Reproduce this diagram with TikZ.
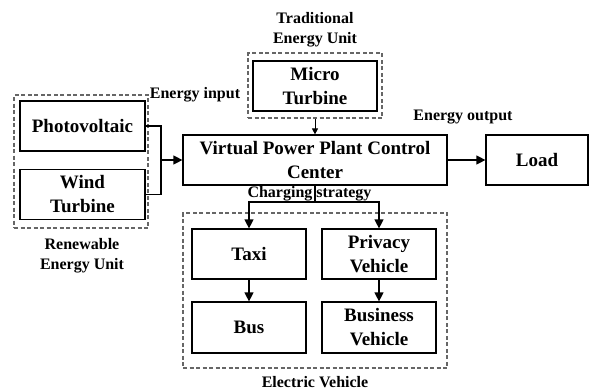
\documentclass[tikz,border=0pt]{standalone}
\usepackage{fontspec}
\setmainfont{Liberation Serif}
\usetikzlibrary{arrows.meta}

\begin{document}
\begin{tikzpicture}[x=1pt,y=-1pt,
  box/.style={draw, line width=1.2pt, inner sep=0pt, align=center,
    font=\fontsize{19}{24}\selectfont\bfseries},
  group/.style={draw=black!60, line width=1.1pt, dash pattern=on 4pt off 2.5pt, inner sep=0pt},
  lbl/.style={inner sep=0pt, align=center, font=\fontsize{16}{20}\selectfont\bfseries},
  link/.style={line width=1.2pt},
  arr/.style={link, -{Triangle[length=9pt,width=9pt]}},
  arrsmall/.style={line width=0.9pt, -{Triangle[length=6pt,width=6pt]}}
]
\useasboundingbox (0,0) rectangle (590,389);

% dashed grouping frames
\node[group, minimum width=134pt, minimum height=133pt] (renew) at (81,161.5) {};
\node[group, minimum width=134pt, minimum height=65pt] (trad) at (315,85.5) {};
\node[group, minimum width=264pt, minimum height=155pt] (ev) at (315,290.5) {};

% blocks
\node[box, minimum width=125pt, minimum height=50pt] (pv) at (82.5,126) {Photovoltaic};
\node[box, minimum width=125pt, minimum height=50pt] (wind) at (82.5,194.5) {Wind\\Turbine};
\node[box, minimum width=124pt, minimum height=50pt] (mt) at (315,86) {Micro\\Turbine};
\node[box, minimum width=264pt, minimum height=50pt] (vpp) at (315,160) {Virtual Power Plant Control\\Center};
\node[box, minimum width=102pt, minimum height=50pt] (load) at (537,160) {Load};
\node[box, minimum width=114pt, minimum height=50pt] (taxi) at (249,254) {Taxi};
\node[box, minimum width=114pt, minimum height=50pt] (priv) at (379,254) {Privacy\\Vehicle};
\node[box, minimum width=114pt, minimum height=51pt] (bus) at (249,327.5) {Bus};
\node[box, minimum width=114pt, minimum height=51pt] (biz) at (379,327.5) {Business\\Vehicle};

% labels
\node[lbl] (ltrad) at (315,30) {Traditional\\Energy Unit};
\node[lbl] (lin) at (195,95) {Energy input};
\node[lbl] (lout) at (463,117) {Energy output};
\node[lbl] (lrenew) at (82,255.5) {Renewable\\Energy Unit};
\node[lbl, anchor=base] (lev) at (315,387) {Electric Vehicle};

% connectors
\coordinate (jn) at (161,160);
\draw[link] (pv.east) -| (jn) |- (wind.east);
\draw[arr] (jn) -- (vpp.west);
\draw[arrsmall] (trad.south) -- (vpp.north);
\draw[arr] (vpp.east) -- (load.west);
\coordinate (cs) at (315,202);
\draw[link] (vpp.south) -- (cs);
\draw[arr] (cs) -| (taxi.north);
\draw[arr] (cs) -| (priv.north);
\draw[arr] (taxi.south) -- (bus.north);
\draw[arr] (priv.south) -- (biz.north);

\node[lbl, anchor=base] (lcs) at (309.5,197) {Charging strategy};
\end{tikzpicture}
\end{document}
